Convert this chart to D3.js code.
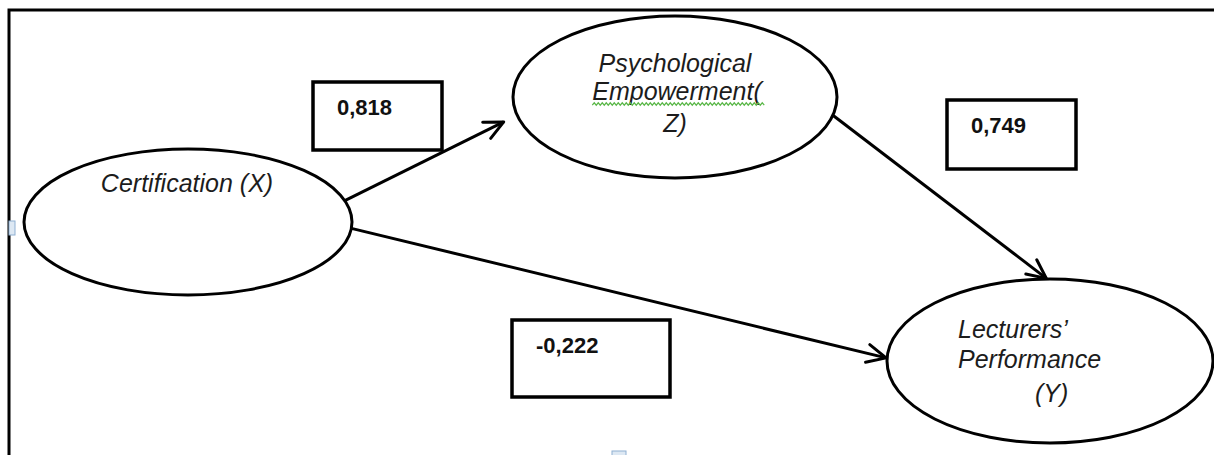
<!DOCTYPE html>
<html>
<head>
<meta charset="utf-8">
<script src="https://cdn.jsdelivr.net/npm/d3@7"></script>
<style>
  html, body { margin: 0; padding: 0; background: #fff; }
  svg { display: block; }
</style>
</head>
<body>
<svg id="chart" width="1214" height="455"></svg>
<script>
// latent variables of the model and the lines of their labels
const variables = ['X', 'Z', 'Y']
const variableLabels = [
  ['Certification (X)'],
  ['Psychological', 'Empowerment(', 'Z)'],
  ['Lecturers\u2019', 'Performance', '(Y)']
]

// path coefficients (source -> target)
const pathFrom = ['X', 'X', 'Z']
const pathTo = ['Z', 'Y', 'Y']
const pathCoefficients = ['0,818', '-0,222', '0,749']

// layout of the diagram, in page units
const nodeLayout = {
  X: { cx: 188, cy: 222, rx: 164, ry: 73, lines: [{ dx: -1, dy: -30, anchor: 'middle' }] },
  Z: {
    cx: 675, cy: 97, rx: 162, ry: 81,
    lines: [{ dx: 0, dy: -25, anchor: 'middle' }, { dx: 2, dy: 3, anchor: 'middle', squiggle: true }, { dx: 0, dy: 35, anchor: 'middle' }]
  },
  Y: {
    cx: 1050, cy: 361, rx: 163, ry: 82,
    lines: [{ dx: -92, dy: -23, anchor: 'start' }, { dx: -92, dy: 7, anchor: 'start' }, { dx: -15, dy: 41, anchor: 'start' }]
  }
}
// ends of each path, as ellipse angles (degrees) plus a gap before the target
const pathLayout = [
  { fromAngle: -17, toAngle: 167, gap: 15, box: { x: 313, y: 82, w: 129, h: 68 } },
  { fromAngle: 5, toAngle: 182, gap: 1, box: { x: 512, y: 320, w: 158, h: 77 } },
  { fromAngle: 13, toAngle: -91, gap: 1, box: { x: 947, y: 100, w: 129, h: 69 } }
]

const width = 1214
const height = 455
const x = d3.scaleLinear().domain([0, 1214]).range([0, width])
const y = d3.scaleLinear().domain([0, 455]).range([0, height])

const svg = d3.select('#chart')

// arrow head: open chevron
svg.append('defs').append('marker')
  .attr('id', 'head')
  .attr('viewBox', '-22 -12 26 24')
  .attr('refX', 0)
  .attr('refY', 0)
  .attr('markerWidth', 26)
  .attr('markerHeight', 24)
  .attr('markerUnits', 'userSpaceOnUse')
  .attr('orient', 'auto')
  .append('path')
  .attr('d', 'M-19,-9 L0,0 L-19,9')
  .attr('fill', 'none')
  .attr('stroke', '#000')
  .attr('stroke-width', 3)
  .attr('stroke-linejoin', 'round')
  .attr('stroke-linecap', 'round')

// page frame (top and left edges only)
svg.append('path')
  .attr('d', `M${x(9)},${y(455)} L${x(9)},${y(10)} L${x(1214)},${y(10)}`)
  .attr('fill', 'none')
  .attr('stroke', '#000')
  .attr('stroke-width', 3)

// small selection handles left over in the source document
svg.append('rect').attr('x', x(9)).attr('y', y(221)).attr('width', 6).attr('height', 14)
  .attr('fill', '#dde8f3').attr('stroke', '#8fb0d2').attr('stroke-width', 1)
svg.append('rect').attr('x', x(612)).attr('y', y(451)).attr('width', 14).attr('height', 6)
  .attr('fill', '#dde8f3').attr('stroke', '#8fb0d2').attr('stroke-width', 1)

function ellipsePoint (id, deg) {
  const n = nodeLayout[id]
  const t = deg * Math.PI / 180
  return [n.cx + n.rx * Math.cos(t), n.cy + n.ry * Math.sin(t)]
}

// paths
const paths = pathCoefficients.map((v, i) => ({
  from: pathFrom[i], to: pathTo[i], value: v, layout: pathLayout[i]
}))

svg.append('g').selectAll('line')
  .data(paths)
  .enter()
  .append('line')
  .each(function (d) {
    const s = ellipsePoint(d.from, d.layout.fromAngle)
    const e = ellipsePoint(d.to, d.layout.toAngle)
    const len = Math.hypot(e[0] - s[0], e[1] - s[1])
    const k = (len - d.layout.gap) / len
    d3.select(this)
      .attr('x1', x(s[0]))
      .attr('y1', y(s[1]))
      .attr('x2', x(s[0] + (e[0] - s[0]) * k))
      .attr('y2', y(s[1] + (e[1] - s[1]) * k))
  })
  .attr('stroke', '#000')
  .attr('stroke-width', 3)
  .attr('marker-end', 'url(#head)')

// coefficient boxes
const boxes = svg.append('g').selectAll('g')
  .data(paths)
  .enter()
  .append('g')

boxes.append('rect')
  .attr('x', d => x(d.layout.box.x))
  .attr('y', d => y(d.layout.box.y))
  .attr('width', d => d.layout.box.w)
  .attr('height', d => d.layout.box.h)
  .attr('fill', '#fff')
  .attr('stroke', '#000')
  .attr('stroke-width', 3.5)

boxes.append('text')
  .attr('x', d => x(d.layout.box.x + 24))
  .attr('y', d => y(d.layout.box.y + 33))
  .attr('font-family', '"Liberation Sans", Arial, sans-serif')
  .attr('font-weight', 'bold')
  .attr('font-size', 22)
  .attr('fill', '#111')
  .text(d => d.value)

// latent variable ellipses
const nodes = variables.map((id, i) => ({ id, label: variableLabels[i], layout: nodeLayout[id] }))

const nodeG = svg.append('g').selectAll('g')
  .data(nodes)
  .enter()
  .append('g')

nodeG.append('ellipse')
  .attr('cx', d => x(d.layout.cx))
  .attr('cy', d => y(d.layout.cy))
  .attr('rx', d => d.layout.rx)
  .attr('ry', d => d.layout.ry)
  .attr('fill', '#fff')
  .attr('stroke', '#000')
  .attr('stroke-width', 3)

nodeG.each(function (d) {
  const g = d3.select(this)
  d.label.forEach((line, j) => {
    const l = d.layout.lines[j]
    const t = g.append('text')
      .attr('x', x(d.layout.cx + l.dx))
      .attr('y', y(d.layout.cy + l.dy))
      .attr('text-anchor', l.anchor)
      .attr('font-family', '"Liberation Sans", Arial, sans-serif')
      .attr('font-style', 'italic')
      .attr('font-size', 25)
      .attr('fill', '#1c1c1c')
      .text(line)
    if (l.squiggle) {
      // spell-check wavy underline
      const bb = t.node().getBBox()
      const y0 = y(d.layout.cy + l.dy) + 4
      const pts = d3.range(bb.x, bb.x + bb.width, 2).map((px, k) => [px, y0 + (k % 2 ? -1.2 : 1.2)])
      g.append('path')
        .attr('d', d3.line()(pts))
        .attr('fill', 'none')
        .attr('stroke', '#5cb84a')
        .attr('stroke-width', 1.2)
    }
  })
})
</script>
</body>
</html>
